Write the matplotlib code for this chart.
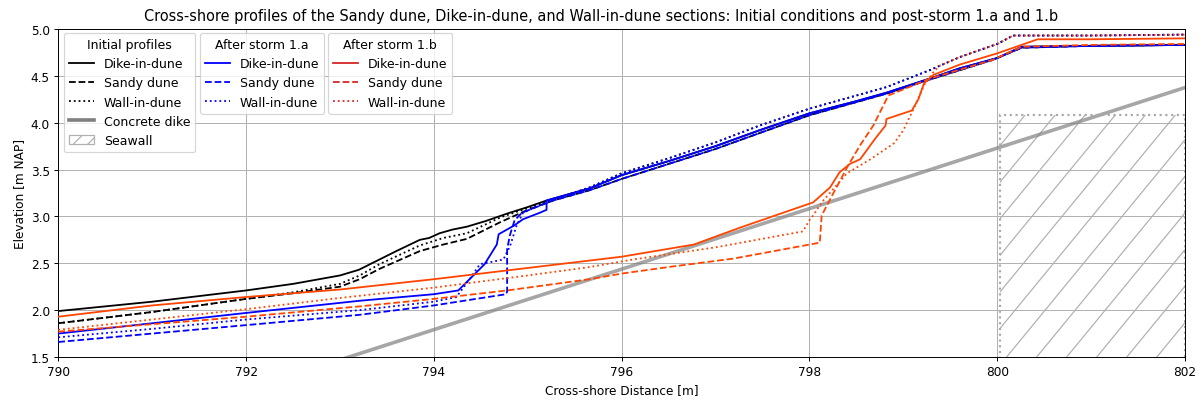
import numpy as np
import matplotlib.pyplot as plt
from matplotlib.lines import Line2D
from matplotlib.patches import Patch, Rectangle

# ---- initial profiles ----
dike_init_x = [790, 790.5, 791, 791.5, 792, 792.5, 793.0, 793.2, 793.42, 793.6, 793.85, 793.95,
               794.06, 794.2, 794.35, 794.55, 794.78, 795.0, 795.2, 795.66, 796, 796.5, 797,
               797.47, 798, 798.5, 798.82, 799.28, 799.6, 800.0, 800.26, 801, 802]
dike_init_y = [1.99, 2.04, 2.09, 2.15, 2.21, 2.28, 2.37, 2.43, 2.54, 2.63, 2.75, 2.77,
               2.82, 2.86, 2.89, 2.95, 3.03, 3.10, 3.17, 3.30, 3.44, 3.59, 3.75,
               3.92, 4.10, 4.23, 4.32, 4.47, 4.58, 4.69, 4.81, 4.82, 4.83]

sandy_init_x = [790, 791, 792, 792.5, 793.0, 793.21, 793.42, 793.85, 794.1, 794.35, 794.71, 795.0,
                795.27, 795.66, 796, 796.5, 797, 797.47, 798, 798.5, 798.82, 799.28, 799.95,
                800.26, 801, 802]
sandy_init_y = [1.86, 1.98, 2.12, 2.18, 2.25, 2.33, 2.44, 2.63, 2.70, 2.76, 2.94, 3.07,
                3.17, 3.28, 3.40, 3.56, 3.72, 3.89, 4.08, 4.22, 4.31, 4.46, 4.67,
                4.80, 4.82, 4.83]

wall_init_x = [790, 791, 792, 792.5, 793.0, 793.21, 793.42, 793.85, 794.1, 794.35, 794.71, 795.0,
               795.66, 796, 796.5, 797, 797.47, 798, 798.5, 798.82, 799.28, 799.6, 800.0,
               800.17, 801, 802]
wall_init_y = [1.86, 1.98, 2.12, 2.19, 2.28, 2.37, 2.49, 2.69, 2.77, 2.82, 2.99, 3.09,
               3.31, 3.46, 3.62, 3.79, 3.97, 4.15, 4.29, 4.38, 4.56, 4.70, 4.84,
               4.93, 4.93, 4.94]

# ---- after storm 1.a ----
dike_1a_x = [790, 791, 792, 793.21, 794.0, 794.26, 794.42, 794.54, 794.67, 794.69, 794.85, 794.95,
             795.13, 795.2, 795.2, 795.66, 796, 796.5, 797, 797.47, 798, 798.5, 798.82,
             799.28, 799.6, 800.0, 800.26, 801, 802]
dike_1a_y = [1.75, 1.86, 1.97, 2.10, 2.17, 2.21, 2.37, 2.49, 2.70, 2.81, 2.90, 2.97,
             3.04, 3.07, 3.17, 3.30, 3.44, 3.59, 3.75, 3.92, 4.10, 4.23, 4.32,
             4.47, 4.58, 4.69, 4.81, 4.82, 4.83]

sandy_1a_x = [790, 791, 792, 793.21, 794.0, 794.77, 794.78, 794.78, 794.81, 794.86, 794.94, 795.27,
              795.66, 796, 796.5, 797, 797.47, 798, 798.5, 798.82, 799.28, 799.95, 800.26,
              801, 802]
sandy_1a_y = [1.66, 1.75, 1.84, 1.95, 2.05, 2.17, 2.20, 2.65, 2.80, 2.96, 3.04, 3.17,
              3.28, 3.40, 3.56, 3.72, 3.89, 4.08, 4.22, 4.31, 4.46, 4.67, 4.80,
              4.82, 4.83]

wall_1a_x = [790, 791, 792, 793.21, 794.0, 794.24, 794.38, 794.49, 794.74, 794.81, 794.88, 794.95,
             795.2, 795.66, 796, 796.5, 797, 797.47, 798, 798.5, 798.82, 799.28, 799.6,
             800.0, 800.17, 801, 802]
wall_1a_y = [1.71, 1.80, 1.90, 2.00, 2.09, 2.14, 2.33, 2.49, 2.54, 2.68, 2.90, 3.04,
             3.15, 3.31, 3.46, 3.62, 3.79, 3.97, 4.15, 4.29, 4.38, 4.56, 4.70,
             4.84, 4.93, 4.93, 4.94]

# ---- after storm 1.b ----
dike_1b_x = [790, 791, 792, 793, 794, 795, 796, 796.77, 797.26, 798.04, 798.22, 798.32, 798.43,
             798.54, 798.70, 798.81, 798.82, 799.09, 799.16, 799.22, 799.32, 799.6, 800.0,
             800.43, 801, 802]
dike_1b_y = [1.93, 2.05, 2.14, 2.22, 2.33, 2.45, 2.57, 2.70, 2.88, 3.15, 3.31, 3.47, 3.56,
             3.61, 3.83, 3.97, 4.04, 4.13, 4.25, 4.42, 4.51, 4.62, 4.74,
             4.89, 4.89, 4.90]

sandy_1b_x = [790, 791, 792, 793.21, 794.0, 794.78, 795.66, 796, 796.5, 797.19, 798.11, 798.13,
              798.25, 798.41, 798.54, 798.68, 798.84, 799.28, 799.95, 800.26, 801, 802]
sandy_1b_y = [1.77, 1.85, 1.93, 2.04, 2.12, 2.21, 2.33, 2.39, 2.46, 2.55, 2.72, 3.01,
              3.24, 3.54, 3.76, 3.97, 4.29, 4.47, 4.67, 4.81, 4.83, 4.84]

wall_1b_x = [790, 791, 792, 793.0, 794.0, 795.0, 795.66, 796.12, 797.0, 797.93, 798.0, 798.04,
             798.13, 798.40, 798.65, 798.9, 799.0, 799.11, 799.22, 799.32, 799.39, 799.6,
             800.0, 800.17, 801, 802]
wall_1b_y = [1.79, 1.90, 2.01, 2.13, 2.24, 2.37, 2.46, 2.54, 2.67, 2.84, 2.96, 3.01,
             3.15, 3.46, 3.61, 3.78, 3.92, 4.15, 4.40, 4.54, 4.61, 4.70,
             4.84, 4.93, 4.93, 4.94]

# concrete dike crest line and seawall block
concrete_x = [790, 802]
concrete_y = [0.50, 4.375]
seawall_x0 = 800.03
seawall_x1 = 802.0
seawall_top = 4.085

col_1b = 'orangered'
hatch_col = '#b0b0b0'

fig = plt.figure(figsize=(1202 / 87, 403 / 87), dpi=87)
ax = fig.add_axes([0.0485, 0.1117, 0.9374, 0.8139])

ax.plot(concrete_x, concrete_y, color='gray', lw=3, alpha=0.7, zorder=2)

seawall = Rectangle((seawall_x0, 0), seawall_x1 - seawall_x0, seawall_top, facecolor='none',
                    edgecolor='darkgray', linestyle=':', lw=1.8, zorder=2)
ax.add_patch(seawall)
# diagonal hatching inside the seawall block
hatch_step = 0.32
hatch_slope = 1.22
for x0 in np.arange(800.10 - 12 * hatch_step, seawall_x1 + 0.2, hatch_step):
    ln, = ax.plot([x0, x0 + 4], [1.5, 1.5 + 4 * hatch_slope], color=hatch_col, lw=1.0,
                  zorder=1.9)
    ln.set_clip_path(seawall)

ax.plot(dike_init_x, dike_init_y, color='black', ls='-', lw=1.5, zorder=3)
ax.plot(sandy_init_x, sandy_init_y, color='black', ls='--', lw=1.5, zorder=3)
ax.plot(wall_init_x, wall_init_y, color='black', ls=':', lw=1.5, zorder=3)

ax.plot(dike_1a_x, dike_1a_y, color='blue', ls='-', lw=1.5, zorder=4)
ax.plot(sandy_1a_x, sandy_1a_y, color='blue', ls='--', lw=1.5, zorder=4)
ax.plot(wall_1a_x, wall_1a_y, color='blue', ls=':', lw=1.5, zorder=4)

ax.plot(dike_1b_x, dike_1b_y, color=col_1b, ls='-', lw=1.5, zorder=5)
ax.plot(sandy_1b_x, sandy_1b_y, color=col_1b, ls='--', lw=1.5, zorder=5)
ax.plot(wall_1b_x, wall_1b_y, color=col_1b, ls=':', lw=1.5, zorder=5)

ax.set_xlim(790, 802)
ax.set_ylim(1.5, 5.0)
ax.grid(True)
ax.set_axisbelow(True)
ax.set_xlabel('Cross-shore Distance [m]')
ax.set_ylabel('Elevation [m NAP]')
fig.suptitle('Cross-shore profiles of the Sandy dune, Dike-in-dune, and Wall-in-dune sections: '
             'Initial conditions and post-storm 1.a and 1.b', fontsize=12, y=0.978)

names = ['Dike-in-dune', 'Sandy dune', 'Wall-in-dune']
styles = ['-', '--', ':']
leg_kw = dict(loc='upper left', borderaxespad=0, fontsize=10.3, title_fontsize=10.3)

h_init = [Line2D([], [], color='black', ls=s, lw=1.5) for s in styles]
h_init.append(Line2D([], [], color='gray', lw=3))
h_init.append(Patch(facecolor='white', edgecolor=hatch_col, hatch='//'))
leg1 = ax.legend(h_init, names + ['Concrete dike', 'Seawall'], title='Initial profiles',
                 bbox_to_anchor=(0.005, 0.988), **leg_kw)
ax.add_artist(leg1)

h_a = [Line2D([], [], color='blue', ls=s, lw=1.5) for s in styles]
leg2 = ax.legend(h_a, names, title='After storm 1.a', bbox_to_anchor=(0.1258, 0.988), **leg_kw)
ax.add_artist(leg2)

h_b = [Line2D([], [], color='tab:red', ls=s, lw=1.5) for s in styles]
ax.legend(h_b, names, title='After storm 1.b', bbox_to_anchor=(0.2394, 0.988), **leg_kw)

fig.savefig('out.png', dpi=87)
